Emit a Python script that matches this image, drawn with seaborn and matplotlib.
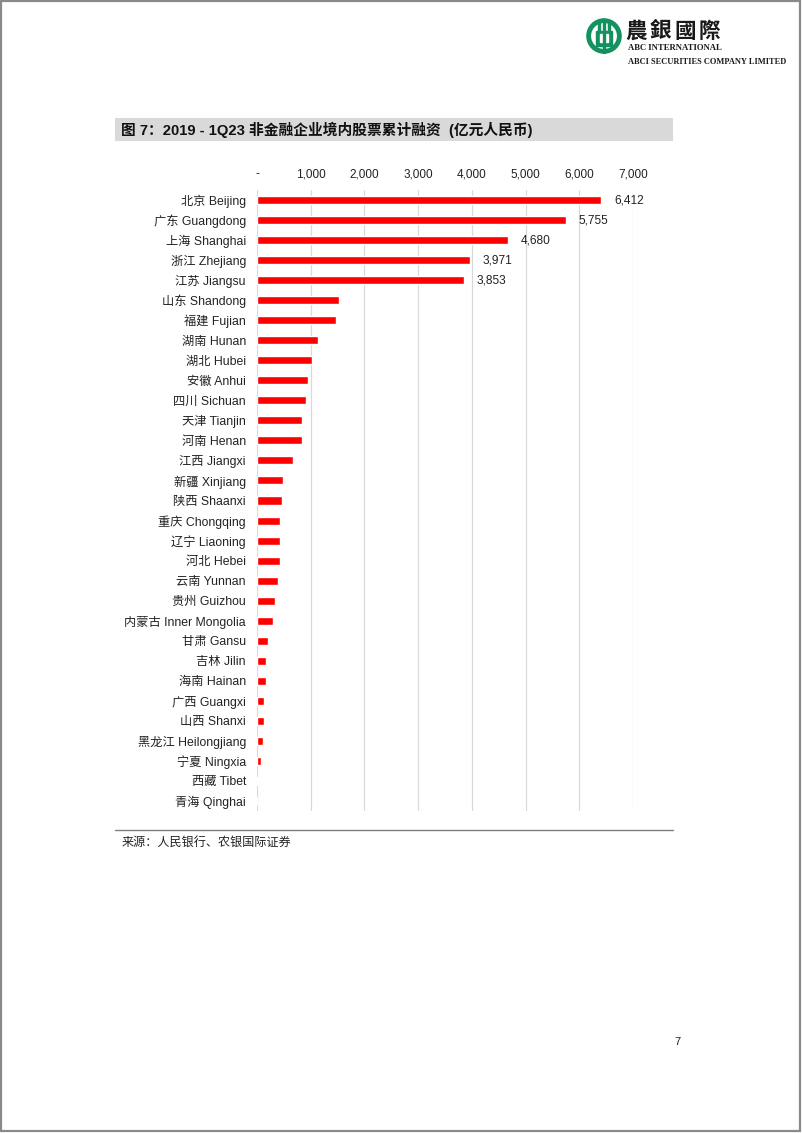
import matplotlib
matplotlib.use("Agg")
import matplotlib.pyplot as plt
from matplotlib.patches import Rectangle, Circle
import seaborn as sns
import pandas as pd

regions = ["北京 Beijing", "广东 Guangdong", "上海 Shanghai", "浙江 Zhejiang", "江苏 Jiangsu",
           "山东 Shandong", "福建 Fujian", "湖南 Hunan", "湖北 Hubei", "安徽 Anhui",
           "四川 Sichuan", "天津 Tianjin", "河南 Henan", "江西 Jiangxi", "新疆 Xinjiang",
           "陕西 Shaanxi", "重庆 Chongqing", "辽宁 Liaoning", "河北 Hebei", "云南 Yunnan",
           "贵州 Guizhou", "内蒙古 Inner Mongolia", "甘肃 Gansu", "吉林 Jilin", "海南 Hainan",
           "广西 Guangxi", "山西 Shanxi", "黑龙江 Heilongjiang", "宁夏 Ningxia", "西藏 Tibet",
           "青海 Qinghai"]
values = [6412, 5755, 4680, 3971, 3853,
          1525, 1466, 1128, 1025, 944,
          905, 843, 830, 671, 491,
          472, 435, 433, 422, 391,
          329, 292, 199, 161, 160,
          124, 122, 118, 81, 25,
          2]
labeled_count = 5
x_ticks = [0, 1000, 2000, 3000, 4000, 5000, 6000, 7000]
x_ticklabels = ["-", "1,000", "2,000", "3,000", "4,000", "5,000", "6,000", "7,000"]
title = "图 7：2019 - 1Q23 非金融企业境内股票累计融资  (亿元人民币)"
source = "来源：人民银行、农银国际证券"

sns.set_theme(style="white")
plt.rcParams['font.family'] = ['Liberation Sans', 'Noto Sans CJK SC', 'DejaVu Sans']

W, H = 802, 1133
fig = plt.figure(figsize=(W / 100, H / 100), dpi=100)
fig.patch.set_facecolor("white")

def fx(px):
    return px / W

def fy(py):
    return 1 - py / H

# page border
fig.add_artist(Rectangle((fx(1), fy(1131)), fx(799), 1130 / H, transform=fig.transFigure,
                         fill=False, edgecolor="#8a8a8a", linewidth=1.6))

# chart axes
ax = fig.add_axes([fx(257), fy(811), fx(633) - fx(257), (811 - 190) / H])
df = pd.DataFrame({"region": regions, "value": values})
sns.barplot(data=df, x="value", y="region", orient="h", color="#ff0000",
            saturation=1, width=0.4, ax=ax)
ax.set_xlim(0, 7000)
ax.set_ylim(len(regions) - 0.5, -0.5)
ax.set_xticks(x_ticks)
ax.set_xticklabels(x_ticklabels)
ax.xaxis.tick_top()
ax.tick_params(axis="x", length=0, pad=7, labelsize=8.5, colors="#222222")
ax.tick_params(axis="y", length=0, pad=8, labelsize=8.8, colors="#222222")
ax.set_xlabel("")
ax.set_ylabel("")
for s in ax.spines.values():
    s.set_visible(False)
ax.grid(axis="x", color="#d9d9d9", linewidth=0.9)
ax.set_axisbelow(True)

cont = ax.containers[0]
lbls = [f"{v:,}" if i < labeled_count else "" for i, v in enumerate(values)]
ax.bar_label(cont, labels=lbls, padding=9, fontsize=8.6, color="#222222")

# title bar
fig.add_artist(Rectangle((fx(115), fy(141)), fx(673) - fx(115), 23 / H, transform=fig.transFigure,
                         facecolor="#d9d9d9", edgecolor="none"))
fig.text(fx(121), fy(130), title, fontsize=10.6, fontweight="bold", va="center", ha="left",
         color="#111111", family=['Liberation Sans', 'Noto Sans CJK SC'])

# source line and text
fig.add_artist(plt.Line2D([fx(115), fx(673)], [fy(830), fy(830)], transform=fig.transFigure,
                          color="#7f7f7f", linewidth=1.0))
fig.text(fx(122), fy(842), source, fontsize=8.7, va="center", ha="left", color="#222222",
         family=['Noto Sans CJK SC'])

# page number
fig.text(fx(677), fy(1042), "7", fontsize=8, va="center", ha="center", color="#222222")

# logo
lax = fig.add_axes([fx(586), fy(54), 36 / W, 36 / H])
lax.set_xlim(-1, 1)
lax.set_ylim(-1, 1)
lax.set_aspect("equal")
lax.axis("off")
green = "#13915f"
lax.add_patch(Circle((0, 0), 0.95, color=green))
lax.add_patch(Circle((0, 0), 0.68, color="white"))
lax.add_patch(Rectangle((-0.42, -0.55), 0.84, 0.85, color=green))
lax.add_patch(Rectangle((-0.22, -0.35), 0.44, 0.45, color="white"))
lax.add_patch(Rectangle((-0.08, -0.95), 0.16, 1.9, color=green))
lax.add_patch(Rectangle((-0.35, 0.3), 0.12, 0.5, color=green))
lax.add_patch(Rectangle((0.23, 0.3), 0.12, 0.5, color=green))

for i, ch in enumerate("農銀國際"):
    fig.text(fx(636 + i * 24.5), fy(31), ch, fontsize=15.5, fontweight="bold", va="center",
             ha="center", color="#1a1a1a", family=['Noto Sans CJK TC'])
fig.text(fx(628), fy(48), "ABC INTERNATIONAL", fontsize=6.2, fontweight="bold", va="center",
         ha="left", color="#1a1a1a", family=['Liberation Serif'])
fig.text(fx(628), fy(62), "ABCI SECURITIES COMPANY LIMITED", fontsize=6.0, fontweight="bold",
         va="center", ha="left", color="#1a1a1a", family=['Liberation Serif'])

fig.savefig("out.png", dpi=100, facecolor="white")
